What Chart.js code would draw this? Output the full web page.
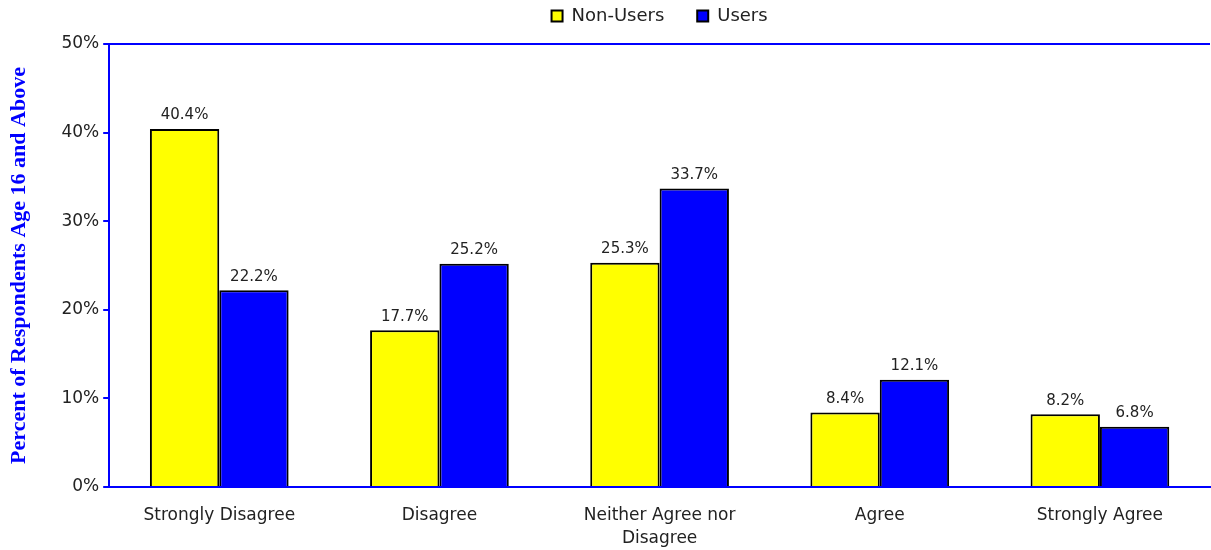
<!DOCTYPE html>
<html>
<head>
<meta charset="utf-8">
<script src="https://cdn.jsdelivr.net/npm/chart.js@4/dist/chart.umd.min.js"></script>
<style>
  body { margin: 0; background: #fff; }
  #wrap { width: 1211px; height: 550px; position: relative; }
</style>
</head>
<body>
<div id="wrap"><canvas id="barChart"></canvas></div>
<script>
// chart values
const categories = ["Strongly Disagree", "Disagree", ["Neither Agree nor", "Disagree"], "Agree", "Strongly Agree"];
const nonUsers = [40.4, 17.7, 25.3, 8.4, 8.2];
const users = [22.2, 25.2, 33.7, 12.1, 6.8];
const yTicks = [0, 10, 20, 30, 40, 50];

const BLUE = "#0000ff";
const FONT = "'DejaVu Sans', Verdana, sans-serif";

// draws the percent value above each bar
const valueLabels = {
  id: "valueLabels",
  afterDatasetsDraw(chart) {
    const ctx = chart.ctx;
    ctx.save();
    ctx.font = "15px " + FONT;
    ctx.fillStyle = "#222";
    ctx.textAlign = "center";
    ctx.textBaseline = "bottom";
    chart.data.datasets.forEach((ds, i) => {
      chart.getDatasetMeta(i).data.forEach((bar, j) => {
        ctx.fillText(ds.data[j].toFixed(1) + "%", bar.x, bar.y - 6);
      });
    });
    ctx.restore();
  },
};

// center the legend over the plot area and pull it up a bit
const legendShift = {
  id: "legendShift",
  afterLayout(chart) {
    const lg = chart.legend;
    if (!lg) return;
    lg.left = chart.chartArea.left;
    lg.right = chart.chartArea.right;
    lg.top -= 9;
    lg.bottom -= 9;
  },
};

const ctx = document.getElementById("barChart").getContext("2d");
new Chart(ctx, {
  type: "bar",
  data: {
    labels: categories,
    datasets: [
      {
        label: "Non-Users",
        data: nonUsers,
        backgroundColor: "#ffff00",
        borderColor: "#000",
        borderWidth: 2,
        borderSkipped: "bottom",
      },
      {
        label: "Users",
        data: users,
        backgroundColor: BLUE,
        borderColor: "#000",
        borderWidth: 2,
        borderSkipped: "bottom",
      },
    ],
  },
  options: {
    responsive: true,
    maintainAspectRatio: false,
    animation: false,
    layout: { padding: { left: 6, right: 1, top: 6, bottom: 0 } },
    datasets: { bar: { categoryPercentage: 0.63, barPercentage: 1.0 } },
    scales: {
      x: {
        grid: { display: false, drawTicks: false },
        border: { color: BLUE, width: 2 },
        ticks: { color: "#222", font: { family: FONT, size: 17, lineHeight: 1.35 }, padding: 17, maxRotation: 0 },
        afterFit: (scale) => { scale.height = 63; },
      },
      y: {
        min: 0,
        max: 50,
        afterBuildTicks: (axis) => { axis.ticks = yTicks.map((v) => ({ value: v })); },
        grid: {
          color: (c) => (c.tick && c.tick.value === 50 ? BLUE : "rgba(0,0,0,0)"),
          tickColor: BLUE,
          lineWidth: 2,
          tickLength: 6,
        },
        border: { color: BLUE, width: 2 },
        ticks: {
          color: "#222",
          font: { family: FONT, size: 17 },
          padding: 4,
          callback: (v) => v + "%",
        },
        title: {
          display: true,
          text: "Percent of Respondents Age 16 and Above",
          color: BLUE,
          font: { family: "'Liberation Serif', 'Times New Roman', serif", size: 22, weight: "bold" },
          padding: { top: 0, bottom: 25 },
        },
      },
    },
    plugins: {
      legend: {
        display: true,
        position: "top",
        labels: {
          color: "#222",
          font: { family: FONT, size: 18 },
          boxWidth: 11,
          boxHeight: 11,
          padding: 10,
          generateLabels: (chart) =>
            Chart.defaults.plugins.legend.labels.generateLabels(chart).map((l, i) =>
              i === 0 ? Object.assign(l, { text: l.text + "\u00a0\u00a0\u00a0\u00a0" }) : l
            ),
        },
      },
      tooltip: { enabled: false },
    },
  },
  plugins: [valueLabels, legendShift],
});
</script>
</body>
</html>
